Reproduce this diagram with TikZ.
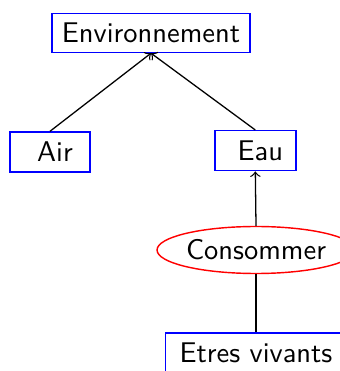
\documentclass[tikz,border=0pt]{standalone}
\usetikzlibrary{shapes.geometric,arrows}
\def\pu{0.351pt}
\begin{document}
\begin{tikzpicture}[x=0.351pt,y=-0.351pt,
  font=\sffamily,
  concept/.style={draw=blue, line width=0.5pt, inner sep=0pt, minimum height=39*\pu},
  relation/.style={draw=red, line width=0.5pt, ellipse, inner sep=0pt, minimum width=182*\pu, minimum height=47*\pu},
  link/.style={line width=0.45pt},
  arc/.style={->, line width=0.45pt}]
\useasboundingbox (0,0) rectangle (340,371);
\node[concept, minimum width=198*\pu] (env) at (151,33) {Environnement};
\node[concept, minimum width=80*\pu, minimum height=40*\pu] (air) at (50,152) {\hspace*{3.5pt}Air};
\node[concept, minimum width=81*\pu, minimum height=40*\pu] (eau) at (255.3,150.7) {\hspace*{3.5pt}Eau};
\node[relation] (cons) at (256,250) {Consommer};
\node[concept, minimum width=181*\pu, minimum height=40*\pu] (etres) at (256,353) {Etres vivants};
\draw[arc] (air.north) -- (env.south);
\draw[arc] (eau.north) -- (env.south);
\draw[arc] (cons.north) -- (eau.south);
\draw[link] (cons.south) -- (etres.north);
\end{tikzpicture}
\end{document}
